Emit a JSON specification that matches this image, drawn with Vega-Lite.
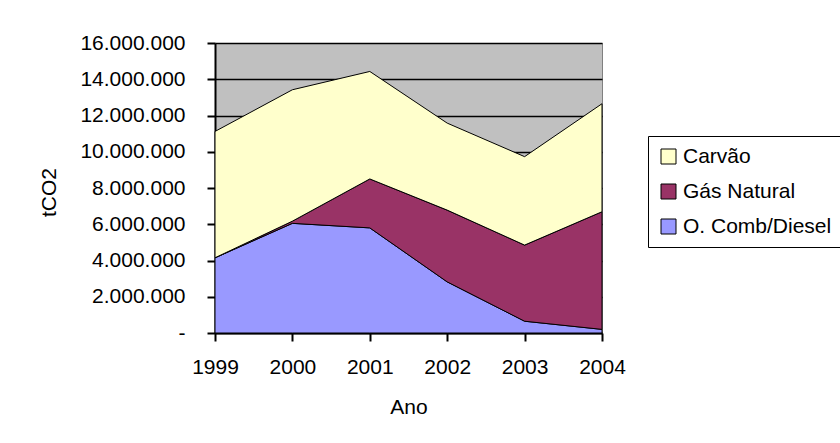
{
  "$schema": "https://vega.github.io/schema/vega-lite/v6.json",
  "autosize": {"type": "none"},
  "width": 387,
  "height": 290,
  "padding": {"left": 215, "top": 43, "right": 238, "bottom": 110},
  "background": "white",
  "config": {
    "locale": {"number": {"decimal": ",", "thousands": ".", "grouping": [3], "currency": ["", ""]}},
    "view": {"fill": "#C0C0C0", "stroke": "#808080", "strokeWidth": 1},
    "font": "Liberation Sans",
    "axis": {"labelFont": "Liberation Sans", "titleFont": "Liberation Sans", "labelColor": "black", "titleColor": "black", "labelFontSize": 21, "titleFontSize": 21, "titleFontWeight": "normal", "domainColor": "black", "domainWidth": 2, "tickColor": "black", "tickWidth": 2}
  },
  "data": {
    "values": [
      {"ano": "1999", "serie": "O. Comb/Diesel", "valor": 4150000},
      {"ano": "2000", "serie": "O. Comb/Diesel", "valor": 6050000},
      {"ano": "2001", "serie": "O. Comb/Diesel", "valor": 5800000},
      {"ano": "2002", "serie": "O. Comb/Diesel", "valor": 2820000},
      {"ano": "2003", "serie": "O. Comb/Diesel", "valor": 650000},
      {"ano": "2004", "serie": "O. Comb/Diesel", "valor": 200000},
      {"ano": "1999", "serie": "Gás Natural", "valor": 0},
      {"ano": "2000", "serie": "Gás Natural", "valor": 120000},
      {"ano": "2001", "serie": "Gás Natural", "valor": 2700000},
      {"ano": "2002", "serie": "Gás Natural", "valor": 3960000},
      {"ano": "2003", "serie": "Gás Natural", "valor": 4200000},
      {"ano": "2004", "serie": "Gás Natural", "valor": 6490000},
      {"ano": "1999", "serie": "Carvão", "valor": 6970000},
      {"ano": "2000", "serie": "Carvão", "valor": 7250000},
      {"ano": "2001", "serie": "Carvão", "valor": 5930000},
      {"ano": "2002", "serie": "Carvão", "valor": 4800000},
      {"ano": "2003", "serie": "Carvão", "valor": 4880000},
      {"ano": "2004", "serie": "Carvão", "valor": 5960000}
    ]
  },
  "mark": {"type": "area", "stroke": "black", "strokeWidth": 1, "opacity": 1, "fillOpacity": 1},
  "encoding": {
    "x": {
      "field": "ano", "type": "ordinal",
      "scale": {"type": "point", "padding": 0},
      "axis": {"title": "Ano", "labelAngle": 0, "labelPadding": 15, "tickSize": 8, "titleY": 80, "titleBaseline": "alphabetic", "grid": false}
    },
    "y": {
      "field": "valor", "type": "quantitative", "stack": "zero",
      "scale": {"domain": [0, 16000000], "nice": false},
      "axis": {"title": "tCO2", "values": [0, 2000000, 4000000, 6000000, 8000000, 10000000, 12000000, 14000000, 16000000], "format": ",d", "labelExpr": "datum.value == 0 ? '-\u00a0\u00a0\u00a0\u00a0' : datum.label", "grid": true, "gridColor": "black", "gridWidth": 1.5, "gridOpacity": 1, "tickSize": 8, "labelPadding": 22, "titleX": -160, "titleY": 149, "titleAlign": "center", "titleBaseline": "alphabetic", "titleAngle": -90}
    },
    "color": {
      "field": "serie", "type": "nominal",
      "scale": {"domain": ["Carvão", "Gás Natural", "O. Comb/Diesel"], "range": ["#FFFFCC", "#993366", "#9999FF"]},
      "legend": {"title": null, "orient": "none", "legendX": 433, "legendY": 93, "strokeColor": "black", "fillColor": "white", "padding": 10, "rowPadding": 13, "symbolType": "square", "symbolSize": 225, "symbolStrokeColor": "black", "symbolStrokeWidth": 1, "symbolFillOpacity": 1, "symbolOpacity": 1, "labelFont": "Liberation Sans", "labelFontSize": 21, "labelColor": "black", "labelOffset": 4}
    },
    "order": {"field": "serie", "sort": "descending"}
  }
}
